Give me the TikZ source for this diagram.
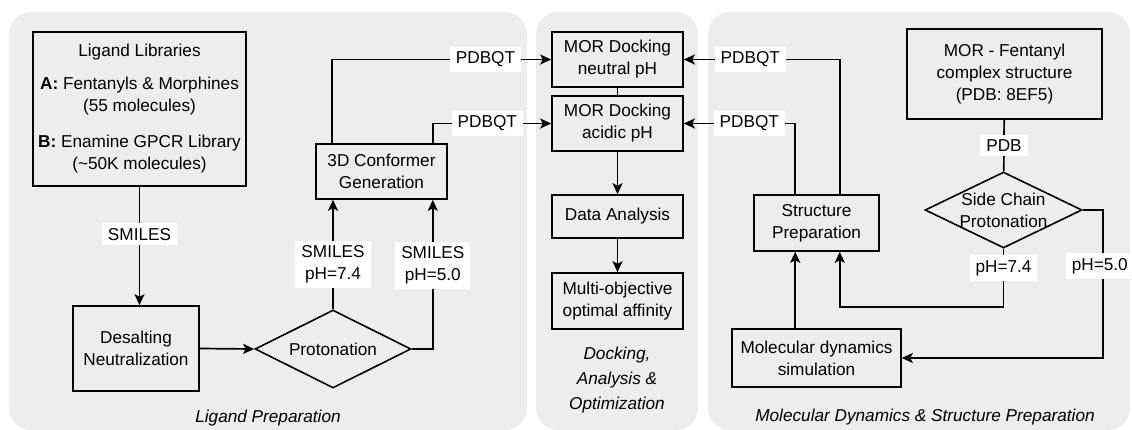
\documentclass[tikz,border=0pt]{standalone}
\usepackage{fontspec}
\setmainfont{Liberation Sans}
\usetikzlibrary{shapes.geometric, arrows.meta, positioning}

\definecolor{panelgray}{HTML}{EDEDED}

\tikzset{
  box/.style={draw, line width=1.6pt, align=center, inner sep=0pt,
    font=\fontsize{17.2}{22}\selectfont},
  decision/.style={draw, diamond, line width=1.6pt, inner sep=0pt},
  dtext/.style={align=center, font=\fontsize{17.2}{22}\selectfont},
  tag/.style={fill=white, align=center, inner xsep=6pt, inner ysep=5pt,
    font=\fontsize{17.2}{22}\selectfont},
  caption/.style={align=center, font=\fontsize{17.2}{25}\selectfont\itshape},
  panel/.style={fill=panelgray, rounded corners=22pt},
  flow/.style={line width=1.7pt},
  arr/.style={flow, -{Stealth[length=11pt, width=10pt, inset=2.5pt]}},
}

\begin{document}
\begin{tikzpicture}[x=1pt, y=-1pt]
\useasboundingbox (0,0) rectangle (1132,430);

% panels
\fill[panel] (9,12) rectangle (527,430);
\fill[panel] (536,12) rectangle (698,430);
\fill[panel] (708,12) rectangle (1130,430);
\node[caption] (capLig) at (268,418) {Ligand Preparation};
\node[caption] (capDock) at (617,380) {Docking,\\Analysis \&\\Optimization};
\node[caption] (capMD) at (925,417) {Molecular Dynamics \& Structure Preparation};

% ligand preparation
\node[box, minimum width=213pt, minimum height=154pt] (lib) at (139.5,109)
  {Ligand Libraries\\[11pt] \textbf{A:} Fentanyls \& Morphines\\(55 molecules)\\[14pt]
   \textbf{B:} Enamine GPCR Library\\(\textasciitilde50K molecules)};
\node[box, minimum width=126pt, minimum height=85pt] (desalt) at (136,348.5) {Desalting\\Neutralization};
\node[decision, minimum width=156pt, minimum height=78pt, label={[dtext]center:Protonation}] (proton) at (333,349) {};
\node[box, minimum width=131pt, minimum height=55pt] (conf) at (381.5,171.5) {3D Conformer\\Generation};

% docking, analysis & optimization
\node[box, minimum width=131pt, minimum height=55pt] (neutral) at (617.5,59.5) {MOR Docking\\neutral pH};
\node[box, minimum width=131pt, minimum height=55pt] (acidic) at (617.5,123.5) {MOR Docking\\acidic pH};
\node[box, minimum width=131pt, minimum height=43pt] (data) at (617.5,216.5) {Data Analysis};
\node[box, minimum width=131pt, minimum height=56pt] (multi) at (617.5,301) {Multi-objective\\optimal affinity};

% molecular dynamics & structure preparation
\node[box, minimum width=195pt, minimum height=90pt] (complex) at (1004.5,74)
  {MOR - Fentanyl\\complex structure\\(PDB: 8EF5)};
\node[decision, minimum width=157pt, minimum height=76pt,
  label={[dtext]center:Side Chain\\Protonation}] (side) at (1003.5,210) {};
\node[box, minimum width=125pt, minimum height=56pt] (struct) at (816.5,223) {Structure\\Preparation};
\node[box, minimum width=169pt, minimum height=58pt] (md) at (816.5,358) {Molecular dynamics\\simulation};

% connectors
\draw[arr] (lib.south) -- node[tag, pos=.4] {SMILES} (lib.south |- desalt.north);
\draw[arr] (desalt.east) -- (proton.west);
\draw[arr] (proton.north) -- node[tag, pos=.41] {SMILES\\pH=7.4} (proton.north |- conf.south);
\draw[arr] (proton.east) -| node[tag, pos=.78] {SMILES\\pH=5.0} ([xshift=-15pt]conf.south east);
\draw[arr] ([xshift=17pt]conf.north west) |- node[tag, pos=.85] {PDBQT} (neutral.west);
\draw[arr] ([xshift=-15pt]conf.north east) |- node[tag, pos=.73] {PDBQT} (acidic.west);
\draw[flow] (neutral) -- (acidic);
\draw[arr] (acidic) -- (data);
\draw[arr] (data) -- (multi);
\draw[arr] ([xshift=-40pt]struct.north east) |- node[tag, pos=.787] {PDBQT} (neutral.east);
\draw[arr] ([xshift=42pt]struct.north west) |- node[tag, pos=.706] {PDBQT} (acidic.east);
\draw[flow] (complex) -- node[tag] {PDB} (side);
\draw[arr] (side.south) -- node[tag, pos=.33] {pH=7.4} ++(0,58) -| ([xshift=-40pt]struct.south east);
\draw[arr] (side.east) -- ++(20,0) |- node[tag, pos=.19, xshift=-3pt] {pH=5.0} (md.east);
\draw[arr] ([xshift=64pt]md.north west) -- ([xshift=42pt]struct.south west);
\end{tikzpicture}
\end{document}
